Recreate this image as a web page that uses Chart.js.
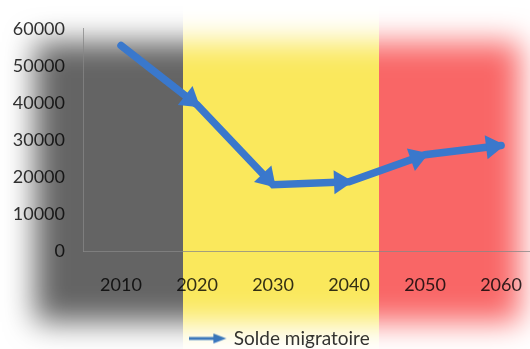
<!DOCTYPE html>
<html lang="fr">
<head>
    <meta charset="UTF-8">
    <title>Solde migratoire</title>
    <style>
        * {
            margin: 0;
            padding: 0;
            box-sizing: border-box;
        }

        body {
            background-color: #fff;
            width: 530px;
            height: 349px;
            overflow: hidden;
        }

        .wrap {
            width: 530px;
            height: 349px;
            overflow: hidden;
        }

        canvas {
            display: block;
        }
    </style>
    <script src="https://cdn.jsdelivr.net/npm/chart.js@4.4.0/dist/chart.umd.min.js"></script>
</head>
<body>
    <div class="wrap">
        <canvas id="chart" width="545" height="358"></canvas>
    </div>

    <script>
        // Data
        const years = ['2010', '2020', '2030', '2040', '2050', '2060'];
        const soldeMigratoire = [55500, 39500, 17900, 18700, 26000, 28500];
        const yTickLabels = ['0', '10000', '20000', '30000', '40000', '50000', '60000'];
        const seriesName = 'Solde migratoire';

        const lineColor = '#3a78cc';
        const axisColor = 'rgba(135,135,135,0.75)';
        const font = { family: 'Lato', size: 18 };

        // legend icon: small arrow
        const arrowIcon = document.createElement('canvas');
        arrowIcon.width = 38;
        arrowIcon.height = 12;
        const ag = arrowIcon.getContext('2d');
        ag.fillStyle = lineColor;
        ag.fillRect(0, 4.5, 26, 3);
        ag.beginPath();
        ag.moveTo(24, 1);
        ag.lineTo(37, 6);
        ag.lineTo(24, 11);
        ag.closePath();
        ag.fill();

        // Belgian flag behind the plot, soft outer edges, multiplied over the text
        const flagPlugin = {
            id: 'flag',
            beforeDatasetsDraw(chart) {
                const { ctx, width, height } = chart;
                if (!chart._flag) {
                    const c = document.createElement('canvas');
                    c.width = width;
                    c.height = height;
                    const g = c.getContext('2d');
                    g.fillStyle = '#646464';
                    g.fillRect(0, 0, 183, height);
                    g.fillStyle = '#fae85c';
                    g.fillRect(183, 0, 196, height);
                    g.fillStyle = '#f96666';
                    g.fillRect(379, 0, width - 379, height);
                    g.globalCompositeOperation = 'destination-in';
                    g.filter = 'blur(15px)';
                    g.fillStyle = '#000';
                    g.fillRect(35, 42, 485, 280);
                    chart._flag = c;
                }
                ctx.save();
                ctx.globalCompositeOperation = 'multiply';
                ctx.drawImage(chart._flag, 0, 0);
                ctx.restore();
            }
        };

        // arrow head at the end of every segment
        const arrowPlugin = {
            id: 'arrows',
            afterDatasetsDraw(chart) {
                const ctx = chart.ctx;
                chart.data.datasets.forEach((ds, di) => {
                    const pts = chart.getDatasetMeta(di).data;
                    ctx.save();
                    ctx.fillStyle = ds.borderColor;
                    for (let i = 1; i < pts.length; i++) {
                        const a = pts[i - 1];
                        const b = pts[i];
                        const ang = Math.atan2(b.y - a.y, b.x - a.x);
                        ctx.save();
                        ctx.translate(b.x, b.y);
                        ctx.rotate(ang);
                        ctx.beginPath();
                        ctx.moveTo(4, 0);
                        ctx.lineTo(-15, -12);
                        ctx.lineTo(-15, 12);
                        ctx.closePath();
                        ctx.fill();
                        ctx.restore();
                    }
                    ctx.restore();
                });
            }
        };

        // legend sits a little right of the canvas centre
        const legendShift = {
            id: 'legendShift',
            afterLayout(chart) {
                chart.legend.left += 7;
                chart.legend.right += 7;
            }
        };

        function draw() {
            new Chart(document.getElementById('chart'), {
                type: 'line',
                data: {
                    labels: years,
                    datasets: [{
                        label: seriesName,
                        data: soldeMigratoire,
                        borderColor: lineColor,
                        backgroundColor: lineColor,
                        borderWidth: 7.5,
                        borderCapStyle: 'round',
                        pointRadius: 0,
                        tension: 0,
                        fill: false
                    }]
                },
                options: {
                    responsive: false,
                    animation: false,
                    layout: {
                        padding: { left: 4, right: 1, top: 19, bottom: 0 }
                    },
                    plugins: {
                        legend: {
                            position: 'bottom',
                            labels: {
                                usePointStyle: true,
                                pointStyle: arrowIcon,
                                pointStyleWidth: 32,
                                padding: 4,
                                color: '#333',
                                font: { family: 'Lato', size: 19 }
                            }
                        },
                        tooltip: { enabled: false }
                    },
                    scales: {
                        x: {
                            offset: true,
                            grid: { display: false, drawTicks: false },
                            border: { color: axisColor, z: 1 },
                            ticks: { padding: 23, color: '#333', font: font },
                            afterFit: s => { s.height = 74; }
                        },
                        y: {
                            min: 0,
                            max: 60000,
                            grid: { display: false, drawTicks: false },
                            border: { color: axisColor, z: 1 },
                            ticks: {
                                stepSize: 10000,
                                padding: 18,
                                color: '#333',
                                font: font,
                                callback: (v, i) => yTickLabels[i]
                            },
                            afterFit: s => { s.width = 79; }
                        }
                    }
                },
                plugins: [flagPlugin, arrowPlugin, legendShift]
            });
        }

        document.fonts.load('18px Lato').then(draw, draw);
    </script>
</body>
</html>
